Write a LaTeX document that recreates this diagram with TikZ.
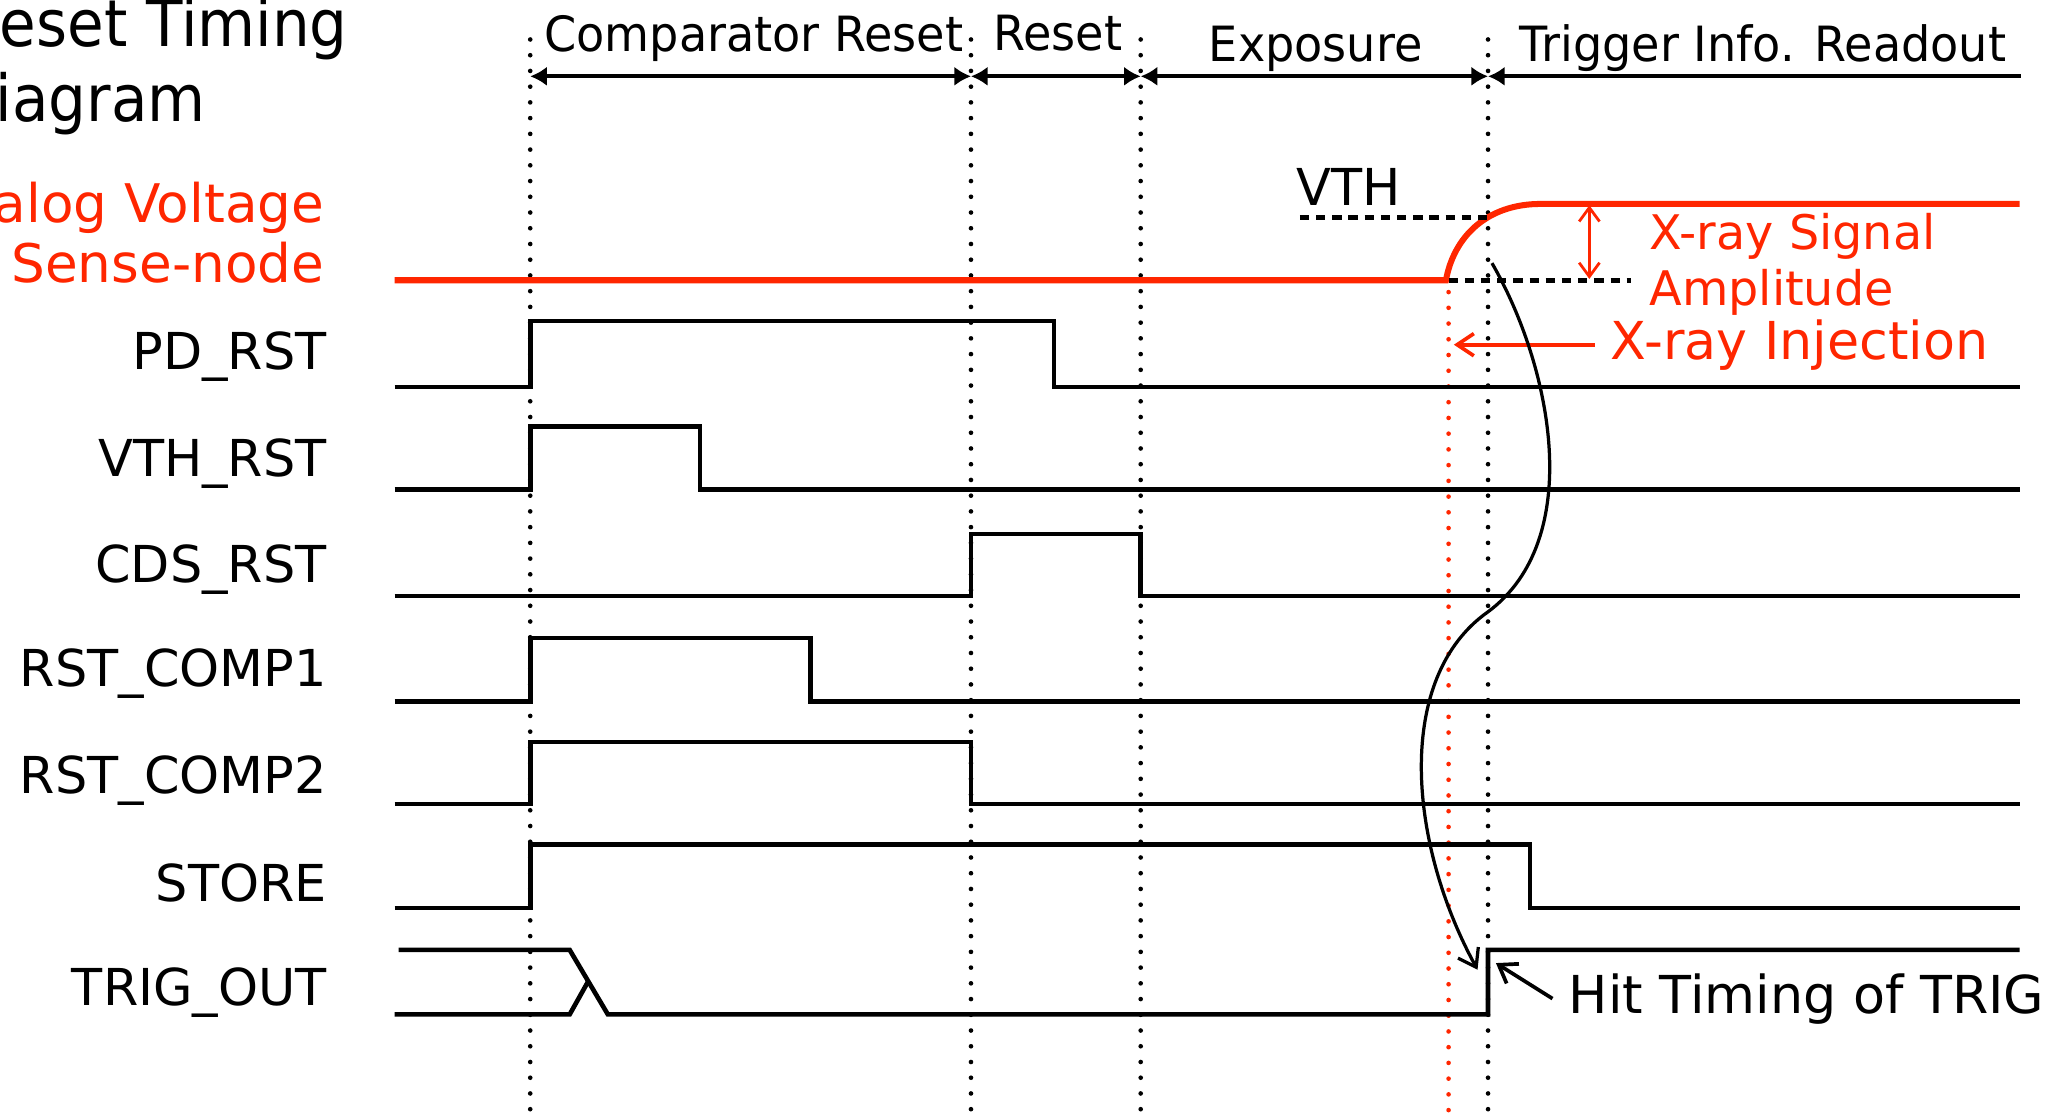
\documentclass[tikz,border=0pt]{standalone}
\usepackage{fontspec}
\setmainfont{DejaVu Sans}
\newfontfamily\narrowfont[FakeStretch=0.95]{DejaVu Sans}
\newfontfamily\titlefont[FakeStretch=0.92]{DejaVu Sans}
\usetikzlibrary{arrows.meta}
\definecolor{senseRed}{RGB}{255,38,0}
\tikzset{wave/.style={draw=black,line width=1pt},
 senseline/.style={draw=senseRed,line width=1.3pt},
 marker/.style={draw=black,line width=1pt,dash pattern=on 0pt off 3.4pt,line cap=round},
 redmarker/.style={draw=senseRed,line width=1pt,dash pattern=on 0pt off 3.4pt,line cap=round},
 level/.style={draw=black,line width=1.1pt,dash pattern=on 2pt off 1.5pt},
 phase/.style={draw=black,line width=.9pt},
 phasetip/.tip={Latex[length=3.6pt,width=4.2pt]},
 barb/.tip={Straight Barb[length=3.6pt,width=5pt]},
 siglabel/.style={font=\fontsize{11}{13}\selectfont,anchor=base east,inner sep=0pt},
 phaselabel/.style={font=\narrowfont\fontsize{10.5}{12}\selectfont,anchor=base,inner sep=0pt},
 titletext/.style={font=\titlefont\fontsize{14}{16}\selectfont,anchor=base east,inner sep=0pt},
 redtext/.style={text=senseRed,font=\fontsize{11.5}{13}\selectfont}}

\begin{document}
\begin{tikzpicture}[x=0.01cm,y=-0.01cm]
\useasboundingbox (0,0) rectangle (1568,848);
\node[titletext] (titleA) at (265,35) {Reset Timing};
\node[titletext] (titleB) at (157,92) {Diagram};
\node[redtext,anchor=base east,inner sep=0pt] (senseA) at (247,169) {Analog Voltage};
\node[redtext,anchor=base east,inner sep=0pt] (senseB) at (247,215) {Sense-node};
\node[siglabel] (pdrst) at (249,281) {PD\_RST};
\node[siglabel] (vthrst) at (249,362) {VTH\_RST};
\node[siglabel] (cdsrst) at (249,443) {CDS\_RST};
\node[siglabel] (comp1) at (249,522) {RST\_COMP1};
\node[siglabel] (comp2) at (249,603) {RST\_COMP2};
\node[siglabel] (store) at (249,685) {STORE};
\node[siglabel] (trigout) at (249,764) {TRIG\_OUT};
\draw[marker] (403,30) -- (403,848);
\draw[marker] (738,30) -- (738,848);
\draw[marker] (867,30) -- (867,848);
\draw[marker] (1131,30) -- (1131,848);
\draw[redmarker] (1101,222) -- (1101,848);
\coordinate (ph0) at (403,58);
\coordinate (ph1) at (738,58);
\coordinate (ph2) at (867,58);
\coordinate (ph3) at (1131,58);
\coordinate (ph4) at (1536,58);
\draw[phase,phasetip-phasetip] (ph0) -- (ph1);
\draw[phase,phasetip-phasetip] (ph1) -- (ph2);
\draw[phase,phasetip-phasetip] (ph2) -- (ph3);
\draw[phase,phasetip-] (ph3) -- (ph4);
\node[phaselabel] (compreset) at (573,39) {Comparator Reset};
\node[phaselabel] (reset) at (804,38) {Reset};
\node[phaselabel] (exposure) at (1000,47) {Exposure};
\node[phaselabel] (readout) at (1340,47) {Trigger Info. Readout};
\draw[senseline] (300,213) -- (1099,213) .. controls (1105,180) and (1130,155) .. (1171,155) -- (1535,155);
\draw[level] (988,165) -- (1131,165);
\draw[level] (1101,213) -- (1240,213);
\node[anchor=base west,inner sep=0pt,font=\fontsize{11}{13}\selectfont] (vth) at (985,156) {VTH};
\coordinate (amptop) at (1208,156);
\coordinate (ampbot) at (1208,212);
\draw[senseRed,line width=.6pt,{Straight Barb[length=3pt,width=4.4pt]}-{Straight Barb[length=3pt,width=4.4pt]}] (amptop) -- (ampbot);
\node[redtext,anchor=base west,inner sep=0pt,font=\fontsize{10.3}{12}\selectfont] (signal) at (1253,190) {X-ray Signal};
\node[redtext,anchor=base west,inner sep=0pt,font=\fontsize{10.3}{12}\selectfont] (amplitude) at (1253,232) {Amplitude};
\node[redtext,anchor=west,font=\fontsize{11.3}{13}\selectfont] (inject) at (1212,262) {X-ray Injection};
\coordinate (injtip) at (1105,262);
\draw[senseRed,line width=.8pt,-{Straight Barb[length=3.6pt,width=4.8pt]}] (inject.west) -- (injtip);
\draw[wave] (300,294) -- (403,294) -- (403,244) -- (801,244) -- (801,294) -- (1535,294);
\draw[wave] (300,372) -- (403,372) -- (403,324) -- (532,324) -- (532,372) -- (1535,372);
\draw[wave] (300,453) -- (738,453) -- (738,406) -- (867,406) -- (867,453) -- (1535,453);
\draw[wave] (300,533) -- (403,533) -- (403,485) -- (616,485) -- (616,533) -- (1535,533);
\draw[wave] (300,611) -- (403,611) -- (403,564) -- (738,564) -- (738,611) -- (1535,611);
\draw[wave] (300,690) -- (403,690) -- (403,642) -- (1163,642) -- (1163,690) -- (1535,690);
\draw[wave] (303,722) -- (433,722) -- (462,771) -- (1131,771) -- (1131,722) -- (1535,722);
\draw[wave] (300,771) -- (433,771) -- (447,746);
\coordinate (trigstart) at (1134,200);
\coordinate (trigend) at (1123,737);
\draw[line width=.7pt,-barb] (trigstart) .. controls (1180,280) and (1205,410) .. (1131,465) .. controls (1060,515) and (1070,640) .. (trigend);
\node[anchor=west,font=\fontsize{11.3}{13}\selectfont] (hit) at (1180,759) {Hit Timing of TRIG};
\coordinate (hittip) at (1137,732);
\draw[line width=.8pt,-barb] (hit.west) -- (hittip);
\end{tikzpicture}
\end{document}
